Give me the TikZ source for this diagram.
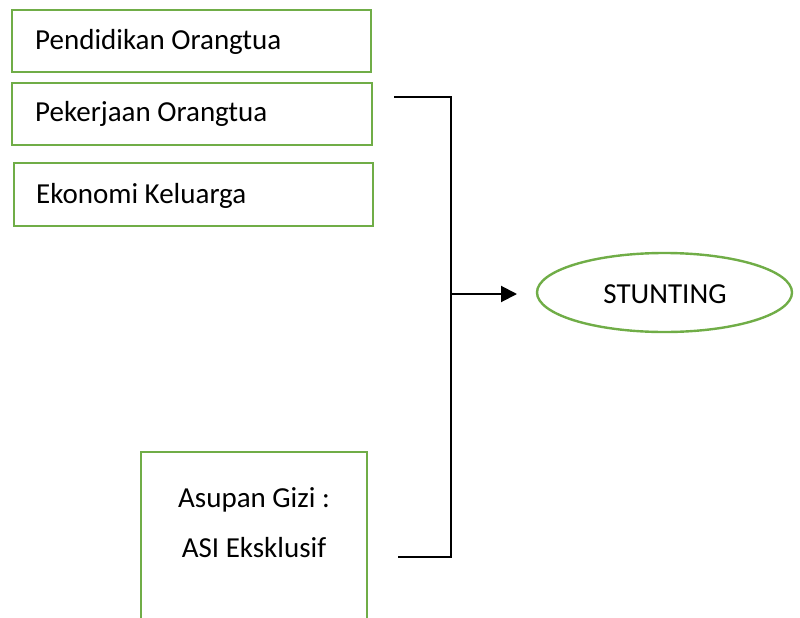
\documentclass[tikz,border=0pt]{standalone}
\usepackage{fontspec}
\setmainfont{Carlito}
\usetikzlibrary{arrows.meta,shapes.geometric}
\definecolor{boxgreen}{HTML}{70AD47}
\begin{document}
\begin{tikzpicture}[x=1pt,y=-1pt,
  gbox/.style={draw=boxgreen,line width=2.4pt,rectangle,inner sep=0pt},
  lbl/.style={font=\fontsize{29}{34}\selectfont,inner sep=0pt,text=black},
  brack/.style={draw=black,line width=1.1pt},
  arr/.style={draw=black,line width=2pt,-{Triangle[length=16pt,width=16pt]}}]
\useasboundingbox (0,0) rectangle (800,618);
% boxes
\node[gbox,minimum width=359pt,minimum height=62pt] (b1) at (191.5,41) {};
\node[gbox,minimum width=360pt,minimum height=62pt] (b2) at (192,114) {};
\node[gbox,minimum width=359pt,minimum height=63pt] (b3) at (193.5,194.5) {};
\node[lbl,anchor=base west] (t1) at (35,49) {Pendidikan Orangtua};
\node[lbl,anchor=base west] (t2) at (35,121) {Pekerjaan Orangtua};
\node[lbl,anchor=base west] (t3) at (36,203) {Ekonomi Keluarga};
% open box at bottom
\coordinate (b4bl) at (141,620);
\coordinate (b4tl) at (141,452);
\coordinate (b4tr) at (367,452);
\coordinate (b4br) at (367,620);
\draw[boxgreen,line width=2.4pt] (b4bl) -- (b4tl) -- (b4tr) -- (b4br);
\node[lbl,anchor=base] (t4a) at (254,507) {Asupan Gizi :};
\node[lbl,anchor=base] (t4b) at (254,557) {ASI Eksklusif};
% ellipse
\node[draw=boxgreen,line width=2.4pt,ellipse,minimum width=255pt,minimum height=79pt,inner sep=0pt] (st) at (664.5,292.5) {};
\node[lbl,anchor=base] (stt) at (665,303) {STUNTING};
% bracket
\coordinate (ta) at (394,97);
\coordinate (tb) at (451,97);
\coordinate (ba) at (398,557);
\coordinate (bb) at (451,557);
\coordinate (mid) at (451,294);
\coordinate (tip) at (517,294);
\draw[brack] (ta) -- (tb) -- (bb) -- (ba);
\draw[arr] (mid) -- (tip);
\end{tikzpicture}
\end{document}
